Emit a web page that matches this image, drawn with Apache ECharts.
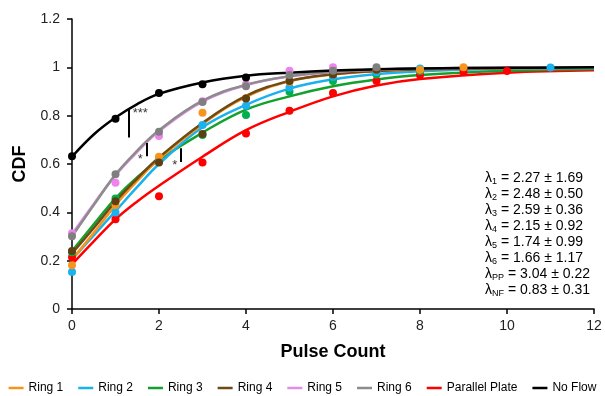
<!DOCTYPE html>
<html>
<head>
<meta charset="utf-8">
<script src="https://cdn.jsdelivr.net/npm/echarts@6/dist/echarts.min.js"></script>
<style>
  html, body { margin: 0; padding: 0; background: #fff; }
  #chart { width: 605px; height: 396px; }
</style>
</head>
<body>
<div id="chart"></div>
<script>
// series names and colours
const names = ['Ring 1', 'Ring 2', 'Ring 3', 'Ring 4', 'Ring 5', 'Ring 6', 'Parallel Plate', 'No Flow']
const lineColors = ['#F7941D', '#19B2EE', '#13A02C', '#6E4A14', '#E48CEA', '#8C8C8C', '#FF0000', '#000000']
const dotColors = ['#F7941D', '#19B2EE', '#00B050', '#5E3F12', '#EE82EE', '#7F7F7F', '#FF0000', '#000000']

// measured points (pulse count -> CDF)
const ring1 = [[0, 0.181], [1, 0.43], [2, 0.63], [3, 0.812], [4, 0.872], [5, 0.94], [6, 0.97], [7, 0.99], [8, 0.99], [9, 1.0]]
const ring2 = [[0, 0.153], [1, 0.399], [2, 0.61], [3, 0.761], [4, 0.841], [5, 0.917], [6, 0.96], [7, 0.98], [8, 0.995], [11, 0.999]]
const ring3 = [[0, 0.235], [1, 0.457], [2, 0.62], [3, 0.72], [4, 0.803], [5, 0.899], [6, 0.943], [7, 0.97], [8, 0.985]]
const ring4 = [[0, 0.24], [1, 0.446], [2, 0.606], [3, 0.724], [4, 0.871], [5, 0.943], [6, 0.97], [7, 0.99]]
const ring5 = [[0, 0.313], [1, 0.522], [2, 0.716], [3, 0.86], [4, 0.93], [5, 0.986], [6, 1.0]]
const ring6 = [[0, 0.301], [1, 0.558], [2, 0.733], [3, 0.857], [4, 0.922], [5, 0.968], [6, 0.986], [7, 1.0]]
const parallelPlate = [[0, 0.214], [1, 0.371], [2, 0.467], [3, 0.606], [4, 0.726], [5, 0.82], [6, 0.894], [7, 0.943], [8, 0.968], [9, 0.981], [10, 0.985]]
const noFlow = [[0, 0.632], [1, 0.787], [2, 0.894], [3, 0.93], [4, 0.958]]

// fitted curves at these pulse counts
const fitX = [0, 0.5, 1, 1.5, 2, 3, 4, 5, 6, 7, 8, 10, 12]
const fitRing1 = [0.205, 0.315, 0.43, 0.53, 0.62, 0.765, 0.878, 0.942, 0.97, 0.984, 0.991, 0.996, 0.998]
const fitRing2 = [0.205, 0.305, 0.405, 0.505, 0.6, 0.752, 0.845, 0.912, 0.95, 0.972, 0.984, 0.994, 0.997]
const fitRing3 = [0.24, 0.35, 0.458, 0.545, 0.616, 0.73, 0.825, 0.88, 0.922, 0.95, 0.968, 0.986, 0.993]
const fitRing4 = [0.23, 0.335, 0.445, 0.54, 0.627, 0.77, 0.882, 0.944, 0.972, 0.985, 0.992, 0.997, 0.999]
const fitRing5 = [0.31, 0.435, 0.553, 0.65, 0.735, 0.858, 0.926, 0.962, 0.98, 0.99, 0.995, 0.998, 1.0]
const fitRing6 = [0.3, 0.43, 0.556, 0.655, 0.74, 0.862, 0.928, 0.963, 0.981, 0.99, 0.995, 0.998, 1.0]
const fitPP = [0.185, 0.28, 0.371, 0.445, 0.51, 0.63, 0.74, 0.816, 0.88, 0.925, 0.952, 0.978, 0.988]
const fitNF = [0.63, 0.722, 0.792, 0.848, 0.89, 0.937, 0.965, 0.978, 0.987, 0.992, 0.995, 0.998, 1.0]

// lambda fit parameters
const lambdaSubs = ['1', '2', '3', '4', '5', '6', 'PP', 'NF']
const lambdaMeans = ['2.27', '2.48', '2.59', '2.15', '1.74', '1.66', '3.04', '0.83']
const lambdaErrs = ['1.69', '0.50', '0.36', '0.92', '0.99', '1.17', '0.22', '0.31']

// significance bars [x, yTop, yBottom] and star labels [x, y, text]
const sigBars = [[1.3, 0.823, 0.71], [1.71, 0.687, 0.632], [2.49, 0.665, 0.608]]
const sigStars = [[1.57, 0.81, '***'], [1.57, 0.617, '*'], [2.36, 0.593, '*']]

const points = [ring1, ring2, ring3, ring4, ring5, ring6, parallelPlate, noFlow]
const fits = [fitRing1, fitRing2, fitRing3, fitRing4, fitRing5, fitRing6, fitPP, fitNF]
const drawOrder = [6, 2, 1, 0, 3, 4, 5, 7]

const font = 'Liberation Sans, Arial, sans-serif'
const chart = echarts.init(document.getElementById('chart'))

const series = []
drawOrder.forEach((i) => {
  series.push({
    name: names[i],
    type: 'line',
    smooth: 0.4,
    symbol: 'none',
    color: lineColors[i],
    lineStyle: { width: 2.5, color: lineColors[i] },
    data: fitX.map((x, k) => [x, fits[i][k]]),
    z: 2
  })
})
drawOrder.forEach((i) => {
  series.push({
    name: names[i],
    type: 'scatter',
    symbolSize: 8,
    itemStyle: { color: dotColors[i], opacity: 1 },
    data: points[i],
    z: 3
  })
})
series.push({
  name: 'sig',
  type: 'scatter',
  symbol: 'circle',
  symbolSize: 2,
  itemStyle: { color: 'rgba(0,0,0,0)' },
  data: sigStars.map((s) => ({ value: [s[0], s[1]], label: { show: true, formatter: s[2] } })),
  label: { show: true, position: 'inside', fontSize: 13, color: '#000', fontFamily: font },
  labelLayout: { hideOverlap: false },
  markLine: {
    silent: true,
    symbol: 'none',
    label: { show: false },
    lineStyle: { color: '#000', width: 2, type: 'solid' },
    data: sigBars.map((b) => [{ coord: [b[0], b[1]] }, { coord: [b[0], b[2]] }])
  },
  z: 4
})

const lambdaText = lambdaSubs.map((s, i) =>
  '{l|λ}{s|' + s + '}{l| = ' + lambdaMeans[i] + ' ± ' + lambdaErrs[i] + '}'
).join('\n')

const option = {
  animation: false,
  grid: { left: 72, right: 11, top: 19, bottom: 87, containLabel: false },
  legend: {
    data: names.map((n, i) => ({ name: n, icon: 'rect', itemStyle: { color: lineColors[i] } })),
    left: 'center',
    top: 377,
    itemWidth: 15,
    itemHeight: 2.5,
    itemGap: 15,
    textStyle: { fontSize: 12, color: '#000', fontFamily: font }
  },
  xAxis: {
    type: 'value',
    min: 0,
    max: 12,
    interval: 2,
    name: 'Pulse Count',
    nameLocation: 'middle',
    nameGap: 34,
    nameTextStyle: { fontSize: 18, fontWeight: 'bold', color: '#000', fontFamily: font },
    axisLine: { lineStyle: { color: '#000', width: 1.5 } },
    axisTick: { show: true, inside: false, length: 5, lineStyle: { color: '#000', width: 1.5 } },
    axisLabel: { fontSize: 14, color: '#222', margin: 10, fontFamily: font },
    splitLine: { show: false }
  },
  yAxis: {
    type: 'value',
    min: 0,
    max: 1.2,
    interval: 0.2,
    name: 'CDF',
    nameLocation: 'middle',
    nameGap: 43,
    nameTextStyle: { fontSize: 18, fontWeight: 'bold', color: '#000', fontFamily: font },
    axisLine: { show: true, lineStyle: { color: '#000', width: 1.5 } },
    axisTick: { show: true, inside: false, length: 5, lineStyle: { color: '#000', width: 1.5 } },
    axisLabel: { fontSize: 14, color: '#222', margin: 12, fontFamily: font },
    splitLine: { show: false }
  },
  graphic: [{
    type: 'text',
    right: 15,
    top: 171,
    style: {
      text: lambdaText,
      fontFamily: font,
      fill: '#000',
      rich: {
        l: { fontSize: 14, lineHeight: 16, verticalAlign: 'middle', fontFamily: font },
        s: { fontSize: 9, lineHeight: 16, verticalAlign: 'bottom', fontFamily: font }
      }
    }
  }],
  series
}

chart.setOption(option)
</script>
</body>
</html>
